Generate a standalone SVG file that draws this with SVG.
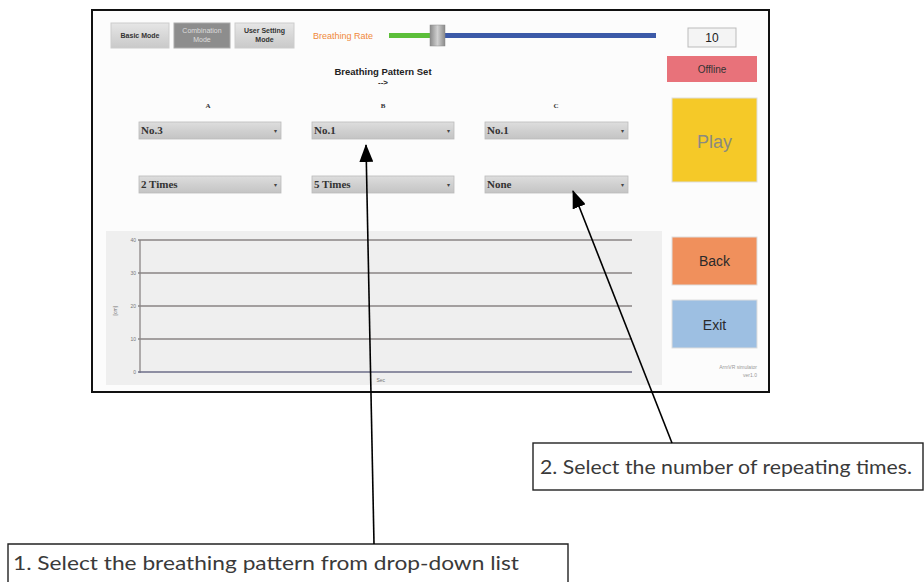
<svg xmlns="http://www.w3.org/2000/svg" width="924" height="582" viewBox="0 0 924 582">
<defs>
<linearGradient id="btn" x1="0" y1="0" x2="0" y2="1"><stop offset="0" stop-color="#e6e6e6"/><stop offset="1" stop-color="#c9c9c9"/></linearGradient>
<linearGradient id="dd" x1="0" y1="0" x2="0" y2="1"><stop offset="0" stop-color="#dedede"/><stop offset="0.5" stop-color="#d0d0d0"/><stop offset="1" stop-color="#c4c4c4"/></linearGradient>
<linearGradient id="thumb" x1="0" y1="0" x2="1" y2="0"><stop offset="0" stop-color="#8a8a8a"/><stop offset="0.5" stop-color="#d0d0d0"/><stop offset="1" stop-color="#8a8a8a"/></linearGradient>
<marker id="ah" markerUnits="userSpaceOnUse" markerWidth="18" markerHeight="14" refX="17" refY="7" orient="auto"><path d="M0,0 L18,7 L0,14 z" fill="#000"/></marker>
<style>
.ui{font-family:"Liberation Sans",Arial,sans-serif;}
.ser{font-family:"Liberation Serif","Times New Roman",serif;font-weight:bold;font-size:11px;fill:#333;}
.dd{fill:url(#dd);stroke:#bbb;stroke-width:0.8;}
.grid{stroke:#8a8585;stroke-width:1.3;}
.tick{font-family:"Liberation Sans",Arial,sans-serif;font-size:5px;fill:#777;text-anchor:end;}
.note{font-family:Lato,"Open Sans",sans-serif;font-size:20px;fill:#3a3a3a;}
.conn{stroke:#000;stroke-width:1.6;fill:none;marker-end:url(#ah);}
.arw{font-family:"Liberation Sans",Arial,sans-serif;font-size:6px;fill:#444;}
</style>
</defs>
<rect width="924" height="582" fill="#fff"/>
<g id="screen">
<rect x="92" y="10" width="677" height="382" fill="#fcfcfc" stroke="#111" stroke-width="2"/>
</g>
<g id="modeButtons" class="ui">
<rect x="111" y="23" width="58" height="25" fill="url(#btn)" stroke="#ccc"/>
<text x="140" y="38" font-size="7" font-weight="bold" fill="#333" text-anchor="middle">Basic Mode</text>
<rect x="174" y="23" width="56" height="25" fill="#8d8d8d" stroke="#aaa"/>
<text x="202" y="33" font-size="7" fill="#ddd" text-anchor="middle">Combination</text>
<text x="202" y="42" font-size="7" fill="#ddd" text-anchor="middle">Mode</text>
<rect x="235" y="23" width="59" height="25" fill="url(#btn)" stroke="#ccc"/>
<text x="264.5" y="33" font-size="7" font-weight="bold" fill="#333" text-anchor="middle">User Setting</text>
<text x="264.5" y="42" font-size="7" font-weight="bold" fill="#333" text-anchor="middle">Mode</text>
</g>
<g id="rateSlider" class="ui">
<text x="313" y="39" font-size="9" fill="#f0883a">Breathing Rate</text>
<rect x="389" y="33" width="44" height="5" fill="#5cbf3a"/>
<rect x="445" y="33" width="211" height="5" fill="#3c5aa8"/>
<rect x="430" y="25" width="15" height="21" fill="url(#thumb)" stroke="#888" stroke-width="0.5"/>
</g>
<g id="rateValue" class="ui">
<rect x="688" y="28" width="48" height="19" fill="#f4f4f4" stroke="#bbb"/>
<text x="712" y="42" font-size="12" fill="#222" text-anchor="middle">10</text>
</g>
<g id="offline" class="ui">
<rect x="667" y="56" width="90" height="26" fill="#e8727a"/>
<text x="712" y="73" font-size="10" fill="#333" text-anchor="middle">Offline</text>
</g>
<g id="title" class="ui">
<text x="383" y="75" font-size="9.5" font-weight="bold" fill="#222" text-anchor="middle">Breathing Pattern Set</text>
<text x="383" y="85" font-size="8" font-weight="bold" fill="#222" text-anchor="middle">--&gt;</text>
</g>
<g id="colLabels" class="ser">
<text x="208" y="108" font-size="7" text-anchor="middle">A</text>
<text x="383" y="108" font-size="7" text-anchor="middle">B</text>
<text x="556" y="108" font-size="7" text-anchor="middle">C</text>
</g>
<g id="dropdownA1"><rect class="dd" x="139" y="122" width="142" height="17"/><text class="ser" x="141" y="134">No.3</text><text class="arw" x="274" y="133">▾</text></g>
<g id="dropdownB1"><rect class="dd" x="312" y="122" width="142" height="17"/><text class="ser" x="314" y="134">No.1</text><text class="arw" x="447" y="133">▾</text></g>
<g id="dropdownC1"><rect class="dd" x="485" y="122" width="143" height="17"/><text class="ser" x="487" y="134">No.1</text><text class="arw" x="621" y="133">▾</text></g>
<g id="dropdownA2"><rect class="dd" x="139" y="176" width="142" height="17"/><text class="ser" x="141" y="188">2 Times</text><text class="arw" x="274" y="187">▾</text></g>
<g id="dropdownB2"><rect class="dd" x="312" y="176" width="142" height="17"/><text class="ser" x="314" y="188">5 Times</text><text class="arw" x="447" y="187">▾</text></g>
<g id="dropdownC2"><rect class="dd" x="485" y="176" width="143" height="17"/><text class="ser" x="487" y="188">None</text><text class="arw" x="621" y="187">▾</text></g>
<g id="play" class="ui">
<rect x="672" y="98" width="85" height="84" fill="#f5c928" stroke="#ddd"/>
<text x="714.5" y="148" font-size="18" fill="#8a8a80" text-anchor="middle">Play</text>
</g>
<g id="back" class="ui">
<rect x="672" y="237" width="85" height="48" fill="#f0905c" stroke="#ddd"/>
<text x="714.5" y="266" font-size="14" fill="#2a2a2a" text-anchor="middle">Back</text>
</g>
<g id="exit" class="ui">
<rect x="672" y="300" width="85" height="48" fill="#9dbfe2" stroke="#ddd"/>
<text x="714.5" y="330" font-size="14" fill="#2a2a2a" text-anchor="middle">Exit</text>
</g>
<g id="version" class="ui">
<text x="757" y="369" font-size="5" fill="#999" text-anchor="end">ArmVR simulator</text>
<text x="757" y="377" font-size="5" fill="#999" text-anchor="end">ver1.0</text>
</g>
<g id="chart">
<rect x="106" y="231" width="556" height="154" fill="#efefef"/>
<line x1="140" y1="240" x2="140" y2="373" class="grid"/>
<line x1="138" y1="240" x2="632" y2="240" class="grid"/>
<line x1="138" y1="273" x2="632" y2="273" class="grid"/>
<line x1="138" y1="306" x2="632" y2="306" class="grid"/>
<line x1="138" y1="339" x2="632" y2="339" class="grid"/>
<line x1="138" y1="372" x2="632" y2="372" stroke="#6c6e88" stroke-width="1.3"/>
<text class="tick" x="136" y="242">40</text>
<text class="tick" x="136" y="275">30</text>
<text class="tick" x="136" y="308">20</text>
<text class="tick" x="136" y="341">10</text>
<text class="tick" x="136" y="374">0</text>
<text class="tick" x="117" y="306" text-anchor="middle" transform="rotate(-90 117 306)">[cm]</text>
<text class="tick" x="385" y="382" text-anchor="middle">Sec</text>
</g>
<g id="note1">
<path d="M8,582 V544 H568 V582" fill="#fff" stroke="#222" stroke-width="1.4"/>
<text class="note" x="13" y="570" textLength="506" lengthAdjust="spacingAndGlyphs">1. Select the breathing pattern from drop-down list</text>
</g>
<g id="note2">
<rect x="533" y="443" width="390" height="47" fill="#fff" stroke="#222" stroke-width="1.4"/>
<text class="note" x="540" y="474" textLength="372" lengthAdjust="spacingAndGlyphs">2. Select the number of repeating times.</text>
</g>
<g id="connectors">
<line class="conn" x1="374" y1="544" x2="366" y2="145"/>
<line class="conn" x1="672" y1="443" x2="573" y2="191"/>
</g>
</svg>
